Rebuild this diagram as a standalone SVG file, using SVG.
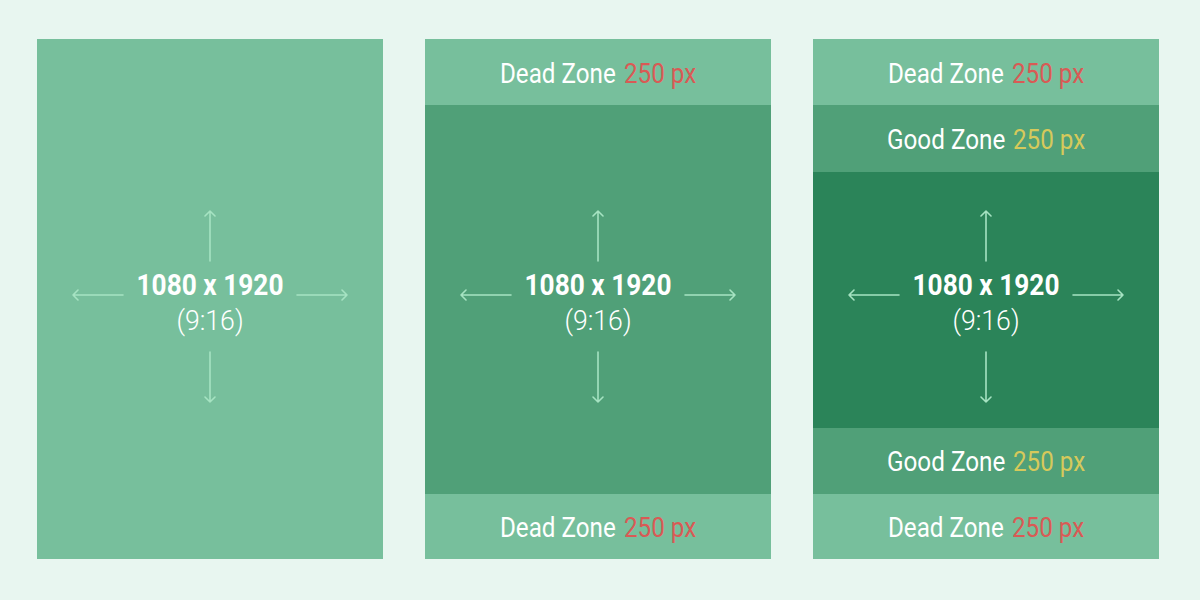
<svg xmlns="http://www.w3.org/2000/svg" width="1200" height="600" viewBox="0 0 1200 600">
<defs>
<style>
.bg{fill:#e8f6f0}
.light{fill:#77bf9c}
.mid{fill:#50a078}
.dark{fill:#2b8459}
.zone{font-family:Roboto,"Liberation Sans",sans-serif;font-size:28px;fill:#ffffff}
.red{fill:#d95a55}
.yel{fill:#d6c95b}
.dim{font-family:Roboto,"Liberation Sans",sans-serif;font-size:29px;font-weight:700;fill:#ffffff;text-anchor:middle}
.ratio{font-family:Roboto,"Liberation Sans",sans-serif;font-size:28px;font-weight:300;fill:#ffffff;text-anchor:middle}
.arr{stroke:#a6e3c2;stroke-width:1.6;fill:none;stroke-linecap:round;stroke-linejoin:round}
</style>
</defs>
<rect class="bg" x="0" y="0" width="1200" height="600"/>

<g id="panel1">
<rect class="light" x="37" y="39" width="346" height="520"/>
<text class="dim" transform="translate(210 295) scale(0.93 1)" textLength="158" lengthAdjust="spacingAndGlyphs">1080 x 1920</text>
<text class="ratio" transform="translate(210 330) scale(0.92 1)" textLength="73" lengthAdjust="spacingAndGlyphs">(9:16)</text>
</g>

<g id="panel2">
<rect class="mid" x="425" y="39" width="346" height="520"/>
<rect class="light" x="425" y="39" width="346" height="66"/>
<rect class="light" x="425" y="494" width="346" height="65"/>
<text class="zone" transform="translate(500 83) scale(0.87 1)" textLength="133" lengthAdjust="spacingAndGlyphs">Dead Zone</text>
<text class="zone red" transform="translate(624 83) scale(0.87 1)" textLength="83" lengthAdjust="spacingAndGlyphs">250 px</text>
<text class="zone" transform="translate(500 537) scale(0.87 1)" textLength="133" lengthAdjust="spacingAndGlyphs">Dead Zone</text>
<text class="zone red" transform="translate(624 537) scale(0.87 1)" textLength="83" lengthAdjust="spacingAndGlyphs">250 px</text>
<text class="dim" transform="translate(598 295) scale(0.93 1)" textLength="158" lengthAdjust="spacingAndGlyphs">1080 x 1920</text>
<text class="ratio" transform="translate(598 330) scale(0.92 1)" textLength="73" lengthAdjust="spacingAndGlyphs">(9:16)</text>
</g>

<g id="panel3">
<rect class="dark" x="813" y="39" width="346" height="520"/>
<rect class="light" x="813" y="39" width="346" height="66"/>
<rect class="mid" x="813" y="105" width="346" height="67"/>
<rect class="mid" x="813" y="428" width="346" height="66"/>
<rect class="light" x="813" y="494" width="346" height="65"/>
<text class="zone" transform="translate(888 83) scale(0.87 1)" textLength="133" lengthAdjust="spacingAndGlyphs">Dead Zone</text>
<text class="zone red" transform="translate(1012 83) scale(0.87 1)" textLength="83" lengthAdjust="spacingAndGlyphs">250 px</text>
<text class="zone" transform="translate(887 149) scale(0.87 1)" textLength="136" lengthAdjust="spacingAndGlyphs">Good Zone</text>
<text class="zone yel" transform="translate(1013 149) scale(0.87 1)" textLength="83" lengthAdjust="spacingAndGlyphs">250 px</text>
<text class="zone" transform="translate(887 471) scale(0.87 1)" textLength="136" lengthAdjust="spacingAndGlyphs">Good Zone</text>
<text class="zone yel" transform="translate(1013 471) scale(0.87 1)" textLength="83" lengthAdjust="spacingAndGlyphs">250 px</text>
<text class="zone" transform="translate(888 537) scale(0.87 1)" textLength="133" lengthAdjust="spacingAndGlyphs">Dead Zone</text>
<text class="zone red" transform="translate(1012 537) scale(0.87 1)" textLength="83" lengthAdjust="spacingAndGlyphs">250 px</text>
<text class="dim" transform="translate(986 295) scale(0.93 1)" textLength="158" lengthAdjust="spacingAndGlyphs">1080 x 1920</text>
<text class="ratio" transform="translate(986 330) scale(0.92 1)" textLength="73" lengthAdjust="spacingAndGlyphs">(9:16)</text>
</g>

<g id="connectors" class="arr">
<g transform="translate(210,0)">
<path d="M0 261V211M-5 216L0 211L5 216"/>
<path d="M0 352V402M-5 397L0 402L5 397"/>
<path d="M-87 295H-137M-132 290L-137 295L-132 300"/>
<path d="M87 295H137M132 290L137 295L132 300"/>
</g>
<g transform="translate(598,0)">
<path d="M0 261V211M-5 216L0 211L5 216"/>
<path d="M0 352V402M-5 397L0 402L5 397"/>
<path d="M-87 295H-137M-132 290L-137 295L-132 300"/>
<path d="M87 295H137M132 290L137 295L132 300"/>
</g>
<g transform="translate(986,0)">
<path d="M0 261V211M-5 216L0 211L5 216"/>
<path d="M0 352V402M-5 397L0 402L5 397"/>
<path d="M-87 295H-137M-132 290L-137 295L-132 300"/>
<path d="M87 295H137M132 290L137 295L132 300"/>
</g>
</g>
</svg>
